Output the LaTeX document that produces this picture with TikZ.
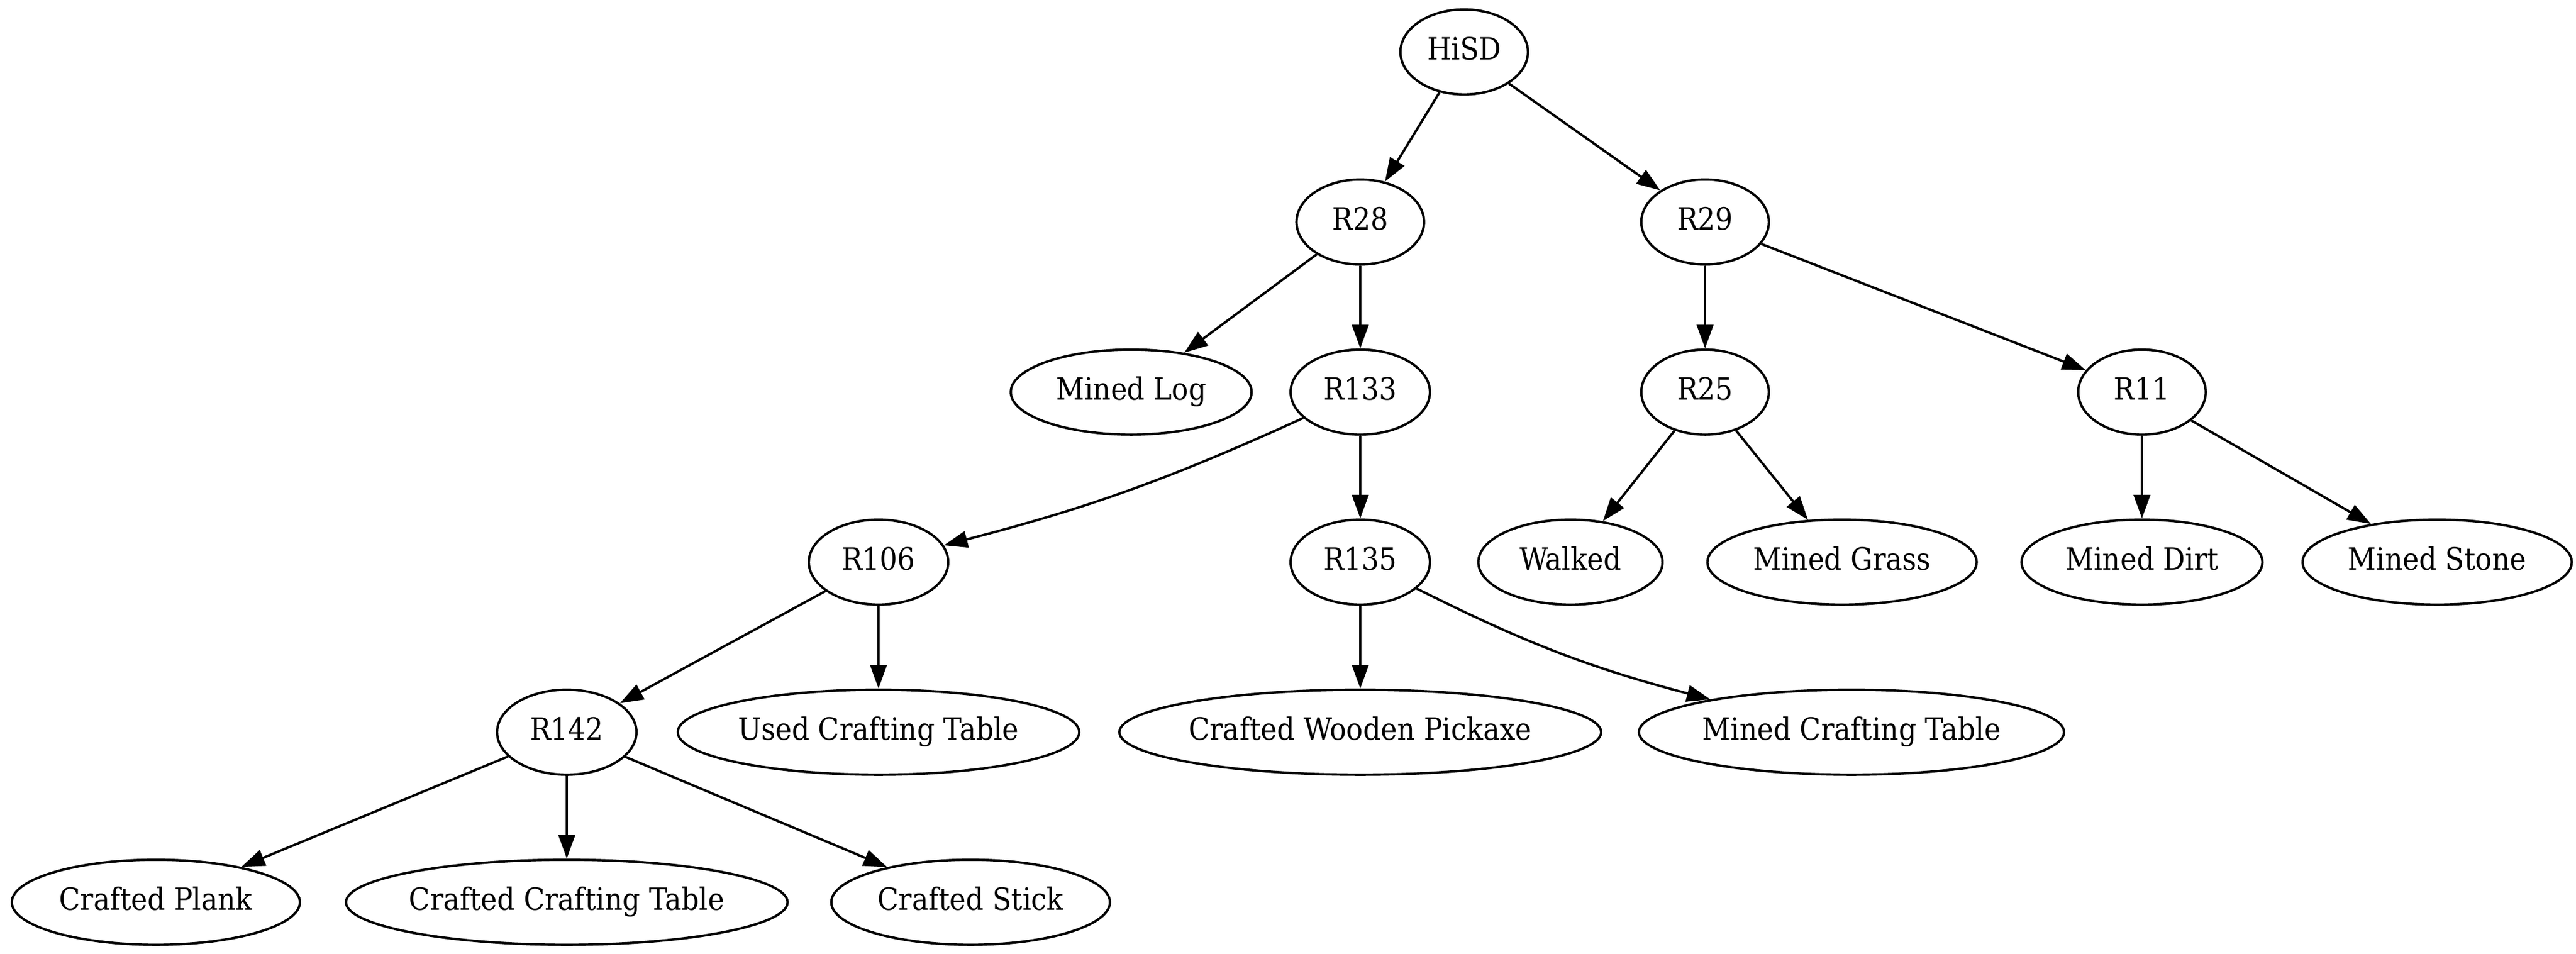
\documentclass[tikz,border=0pt]{standalone}
\usepackage{fontspec}
\setmainfont{DejaVu Serif Condensed}
\usepackage{tikz}
\usetikzlibrary{arrows.meta,shapes.geometric}

\begin{document}
\begin{tikzpicture}[->,>={Triangle[length=10pt,width=7pt]},line width=1pt,node distance=72pt]

    \tikzstyle{rule}=[ellipse,draw=black,fill=white,text=black,inner xsep=-5pt,inner ysep=0pt,minimum width=54pt,minimum height=36pt,text height=10.2pt,text depth=3.4pt,font=\fontsize{13pt}{15.6pt}\selectfont]

    \useasboundingbox (0,0) rectangle (1090.8pt,-403.9pt);

    \node[rule]                       (hisd)  at (620pt,-22pt)   {HiSD};
    \node[rule]                       (r28)   at (576pt,-94pt)   {R28};
    \node[rule]                       (r29)   at (722pt,-94pt)   {R29};
    \node[rule, minimum width=102pt]  (log)   at (479pt,-166pt)  {Mined Log};
    \node[rule, minimum width=59pt]   (r133)  [below of = r28]   {R133};
    \node[rule]                       (r25)   [below of = r29]   {R25};
    \node[rule]                       (r11)   at (907pt,-166pt)  {R11};
    \node[rule, minimum width=59pt]   (r106)  at (372pt,-238pt)  {R106};
    \node[rule, minimum width=59pt]   (r135)  [below of = r133]  {R135};
    \node[rule, minimum width=78pt]   (walk)  at (665pt,-238pt)  {Walked};
    \node[rule, minimum width=114pt]  (grass) at (780pt,-238pt)  {Mined Grass};
    \node[rule, minimum width=102pt]  (dirt)  [below of = r11]   {Mined Dirt};
    \node[rule, minimum width=114pt]  (stone) at (1032pt,-238pt) {Mined Stone};
    \node[rule, minimum width=59pt]   (r142)  at (240pt,-310pt)  {R142};
    \node[rule, minimum width=170pt]  (used)  [below of = r106]  {Used Crafting Table};
    \node[rule, minimum width=204pt]  (pick)  [below of = r135]  {Crafted Wooden Pickaxe};
    \node[rule, minimum width=180pt]  (mct)   at (784pt,-310pt)  {Mined Crafting Table};
    \node[rule, minimum width=122pt]  (plank) at (66pt,-382pt)   {Crafted Plank};
    \node[rule, minimum width=187pt]  (cct)   [below of = r142]  {Crafted Crafting Table};
    \node[rule, minimum width=118pt]  (stick) at (411pt,-382pt)  {Crafted Stick};

    \path (hisd) edge (r28)
          (hisd) edge (r29)
          (r28)  edge (log)
          (r28)  edge (r133)
          (r29)  edge (r25)
          (r29)  edge (r11)
          (r133) edge [bend left=5] (r106)
          (r133) edge (r135)
          (r25)  edge (walk)
          (r25)  edge (grass)
          (r11)  edge (dirt)
          (r11)  edge (stone)
          (r106) edge (r142)
          (r106) edge (used)
          (r135) edge (pick)
          (r135) edge [bend right=6] (mct)
          (r142) edge (plank)
          (r142) edge (cct)
          (r142) edge (stick)
    ;
\end{tikzpicture}
\end{document}
